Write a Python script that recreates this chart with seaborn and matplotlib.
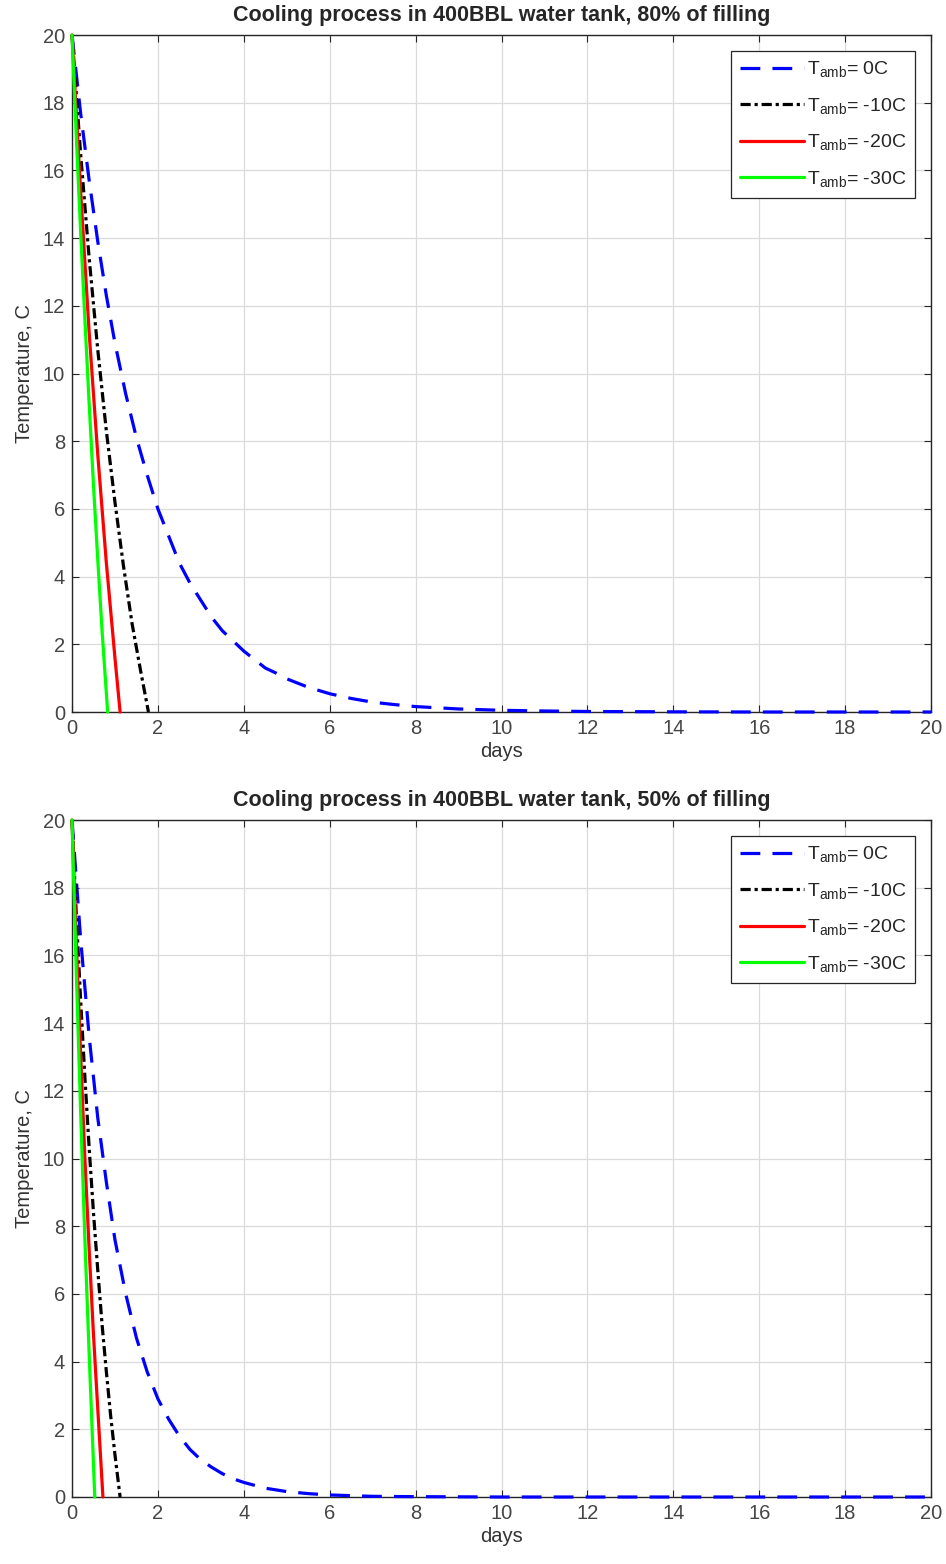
import numpy as np
import pandas as pd
import matplotlib
matplotlib.use("Agg")
import matplotlib.pyplot as plt
import seaborn as sns

sns.set_style("white")
plt.rcParams['font.family'] = ['Liberation Sans', 'DejaVu Sans']
plt.rcParams['mathtext.fontset'] = 'custom'
plt.rcParams['mathtext.rm'] = 'Liberation Sans'
plt.rcParams['mathtext.it'] = 'Liberation Sans'

# ---------------- data ----------------
titles = ["Cooling process in 400BBL water tank, 80% of filling",
          "Cooling process in 400BBL water tank, 50% of filling"]
labels = ["0C", "-10C", "-20C", "-30C"]

# 80% filling
t80_0 = [0, 0.2, 0.4, 0.6, 0.8, 1.0, 1.25, 1.5, 1.75, 2.0, 2.25, 2.5, 2.75, 3.0, 3.25, 3.5, 3.75,
         4.0, 4.25, 4.5, 4.75, 5.0, 5.5, 6.0, 6.5, 7.0, 7.5, 8.0, 9.0, 10.0, 11.0, 12.0, 14.0,
         16.0, 18.0, 20.0]
T80_0 = [20, 17.7, 15.7, 13.9, 12.3, 10.9, 9.4, 8.1, 7.0, 6.0, 5.2, 4.4, 3.8, 3.3, 2.8, 2.4, 2.1,
         1.8, 1.55, 1.3, 1.15, 0.98, 0.73, 0.54, 0.40, 0.29, 0.22, 0.16, 0.09, 0.05, 0.03, 0.015,
         0.005, 0.0, 0.0, 0.0]
t80_10 = [0, 0.2, 0.4, 0.6, 0.8, 1.0, 1.2, 1.4, 1.6, 1.78]
T80_10 = [20, 16.5, 13.4, 10.7, 8.3, 6.2, 4.3, 2.6, 1.2, 0.0]
t80_20 = [0, 0.2, 0.4, 0.6, 0.8, 1.0, 1.12]
T80_20 = [20, 15.4, 11.2, 7.6, 4.4, 1.6, 0.0]
t80_30 = [0, 0.1, 0.2, 0.3, 0.4, 0.5, 0.6, 0.7, 0.83]
T80_30 = [20, 17.0, 14.2, 11.6, 9.1, 6.7, 4.5, 2.4, 0.0]

# 50% filling
t50_0 = [0, 0.2, 0.4, 0.6, 0.8, 1.0, 1.25, 1.5, 1.75, 2.0, 2.25, 2.5, 2.75, 3.0, 3.25, 3.5, 3.75,
         4.0, 4.5, 5.0, 5.5, 6.0, 7.0, 8.0, 10.0, 12.0, 14.0, 16.0, 18.0, 20.0]
T50_0 = [20, 16.5, 13.6, 11.2, 9.3, 7.6, 6.0, 4.7, 3.7, 2.9, 2.3, 1.8, 1.4, 1.1, 0.88, 0.69, 0.54,
         0.43, 0.26, 0.16, 0.10, 0.06, 0.02, 0.01, 0.0, 0.0, 0.0, 0.0, 0.0, 0.0]
t50_10 = [0, 0.1, 0.2, 0.3, 0.4, 0.5, 0.6, 0.7, 0.8, 0.9, 1.0, 1.12]
T50_10 = [20, 17.2, 14.7, 12.4, 10.3, 8.4, 6.7, 5.1, 3.7, 2.4, 1.25, 0.0]
t50_20 = [0, 0.1, 0.2, 0.3, 0.4, 0.5, 0.6, 0.72]
T50_20 = [20, 16.4, 13.1, 10.0, 7.3, 4.8, 2.6, 0.0]
t50_30 = [0, 0.1, 0.2, 0.3, 0.4, 0.53]
T50_30 = [20, 15.5, 11.4, 7.6, 4.2, 0.0]

xticks = list(range(0, 21, 2))
yticks = list(range(0, 21, 2))

panels = [
    [(t80_0, T80_0), (t80_10, T80_10), (t80_20, T80_20), (t80_30, T80_30)],
    [(t50_0, T50_0), (t50_10, T50_10), (t50_20, T50_20), (t50_30, T50_30)],
]

styles = [
    dict(color=(0, 0, 1), lw=2.3, dashes=(6.2, 3.8)),
    dict(color=(0, 0, 0), lw=2.3, dashes=(3.2, 1.2, 1.0, 1.2)),
    dict(color=(1, 0, 0), lw=2.3, dashes=None),
    dict(color=(0, 1, 0), lw=2.3, dashes=None),
]

W, H = 946, 1564
fig = plt.figure(figsize=(W / 100, H / 100), dpi=100)
ax_rects = [
    [72 / W, 1 - 712 / H, 859 / W, 677 / H],
    [72 / W, 1 - 1497 / H, 859 / W, 677 / H],
]
edge = (0.15, 0.15, 0.15)
fs = 14.5

for p, (data, rect, title) in enumerate(zip(panels, ax_rects, titles)):
    ax = fig.add_axes(rect)
    for (tx, Ty), st, lab in zip(data, styles, labels):
        df = pd.DataFrame({"days": tx, "T": Ty})
        sns.lineplot(data=df, x="days", y="T", ax=ax, color=st["color"],
                     linewidth=st["lw"], label=r"$\mathregular{T_{amb}}$" + "= " + lab,
                     sort=False, estimator=None)
        line = ax.lines[-1]
        if st["dashes"] is not None:
            line.set_dashes(st["dashes"])
        line.set_clip_on(False)
        line.set_zorder(5)
    ax.set_xlim(0, 20)
    ax.set_ylim(0, 20)
    ax.set_xticks(xticks)
    ax.set_yticks(yticks)
    ax.grid(True, color=(0.86, 0.86, 0.86), linewidth=0.9)
    ax.set_axisbelow(True)
    for s in ax.spines.values():
        s.set_visible(True)
        s.set_color(edge)
        s.set_linewidth(1.0)
    ax.tick_params(direction="in", length=5, width=0.8, colors=edge,
                   labelcolor=(0.27, 0.27, 0.27), labelsize=fs,
                   top=True, right=True, bottom=True, left=True, pad=5)
    ax.set_xlabel("days", fontsize=fs, color=(0.2, 0.2, 0.2), labelpad=3)
    ax.set_ylabel("Temperature, C", fontsize=fs, color=(0.2, 0.2, 0.2), labelpad=6)
    ax.set_title(title, fontsize=15.5, fontweight="bold", pad=10)
    leg = ax.legend(loc="upper right", fontsize=14, handlelength=3.3,
                    handletextpad=0.15, labelspacing=0.85, borderpad=0.45,
                    borderaxespad=0.8, fancybox=False, framealpha=1)
    leg.get_frame().set_edgecolor(edge)
    leg.get_frame().set_linewidth(0.9)
    for lh, st in zip(leg.get_lines(), styles):
        lh.set_linewidth(2.3)
        if st["dashes"] is not None:
            lh.set_dashes(st["dashes"])

fig.savefig("out.png", dpi=100)
